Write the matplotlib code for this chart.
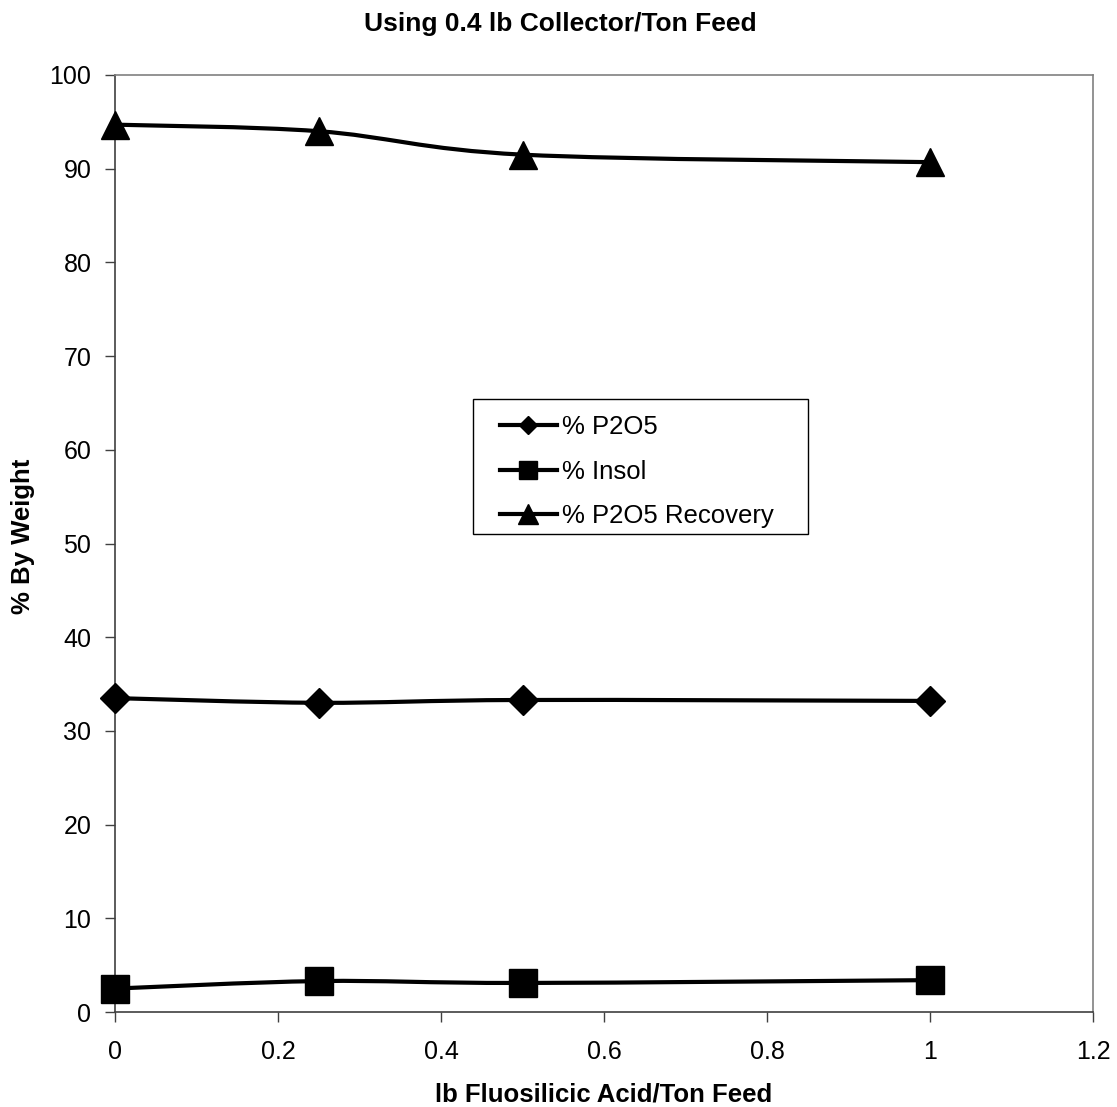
import matplotlib
matplotlib.use("Agg")
import matplotlib.pyplot as plt
from matplotlib.path import Path
from matplotlib.patches import PathPatch, Rectangle
from matplotlib.lines import Line2D
import numpy as np

plt.rcParams['font.family'] = ['Liberation Sans', 'DejaVu Sans']

# lb fluosilicic acid per ton feed
acid = [0, 0.25, 0.5, 1.0]
p2o5 = [33.5, 33.0, 33.3, 33.2]
insol = [2.5, 3.3, 3.1, 3.4]
recovery = [94.7, 94.0, 91.5, 90.7]

series = [
    ("% P2O5", p2o5, "D", 15, 9),
    ("% Insol", insol, "s", 20, 13),
    ("% P2O5 Recovery", recovery, "^", 20, 14),
]


def smooth_path(xs, ys, tension=1.0 / 6):
    # Catmull-Rom style bezier segments through the points (spreadsheet "smoothed line")
    pts = np.column_stack([xs, ys]).astype(float)
    verts = [pts[0]]
    codes = [Path.MOVETO]
    n = len(pts)
    for i in range(n - 1):
        p0 = pts[i - 1] if i > 0 else pts[i]
        p1 = pts[i]
        p2 = pts[i + 1]
        p3 = pts[i + 2] if i + 2 < n else pts[i + 1]
        c1 = p1 + (p2 - p0) * tension
        c2 = p2 - (p3 - p1) * tension
        verts += [c1, c2, p2]
        codes += [Path.CURVE4] * 3
    return Path(verts, codes)


W, H = 1117, 1107
x0, x1, y0, y1 = 115, 1093, 75, 1012          # plot area in pixels
fig = plt.figure(figsize=(W / 100, H / 100), dpi=100)
ax = fig.add_axes([x0 / W, 1 - y1 / H, (x1 - x0) / W, (y1 - y0) / H])


def ax_frac(px, py):
    return (px - x0) / (x1 - x0), (y1 - py) / (y1 - y0)


handles = []
for name, vals, mk, ms, lms in series:
    ax.add_patch(PathPatch(smooth_path(acid, vals), facecolor="none",
                           edgecolor="black", lw=3, zorder=2))
    ax.plot(acid, vals, linestyle="none", marker=mk, ms=ms,
            color="black", zorder=3, clip_on=False)
    handles.append(Line2D([], [], color="black", lw=3, marker=mk, ms=lms,
                          label=name))

ax.set_xlim(0, 1.2)
ax.set_ylim(0, 100)
ax.set_xticks(np.arange(0, 1.21, 0.2))
ax.set_xticklabels(["0", "0.2", "0.4", "0.6", "0.8", "1", "1.2"])
ax.set_yticks(range(0, 101, 10))

for sp in ax.spines.values():
    sp.set_color("#808080")
    sp.set_linewidth(1.2)
ax.spines["left"].set_color("#404040")
ax.spines["bottom"].set_color("#404040")
ax.tick_params(axis="both", labelsize=18, length=7, width=1, color="#404040",
               direction="out")
ax.tick_params(axis="x", pad=13)
ax.tick_params(axis="y", pad=10)

# legend box drawn separately so the padding can be uneven
bl = ax_frac(473, 534)
tr = ax_frac(808, 399)
ax.add_patch(Rectangle(bl, tr[0] - bl[0], tr[1] - bl[1], transform=ax.transAxes,
                       facecolor="white", edgecolor="black", lw=1, zorder=4))
leg = ax.legend(handles=handles, loc="upper left", bbox_to_anchor=ax_frac(500, 415),
                fontsize=18.5, frameon=False, handlelength=2.2,
                handletextpad=0.2, labelspacing=0.8, borderpad=0,
                borderaxespad=0)
leg.set_zorder(5)

fig.text(560 / W, 1 - 31 / H, "Using 0.4 lb Collector/Ton Feed",
         ha="center", va="baseline", fontsize=19, fontweight="bold")
fig.text(604 / W, 1 - 1102 / H, "lb Fluosilicic Acid/Ton Feed",
         ha="center", va="baseline", fontsize=18.5, fontweight="bold")
fig.text(23 / W, 1 - 536 / H, "% By Weight", rotation=90,
         ha="center", va="center", fontsize=18.5, fontweight="bold")

fig.savefig("out.png", dpi=100)
